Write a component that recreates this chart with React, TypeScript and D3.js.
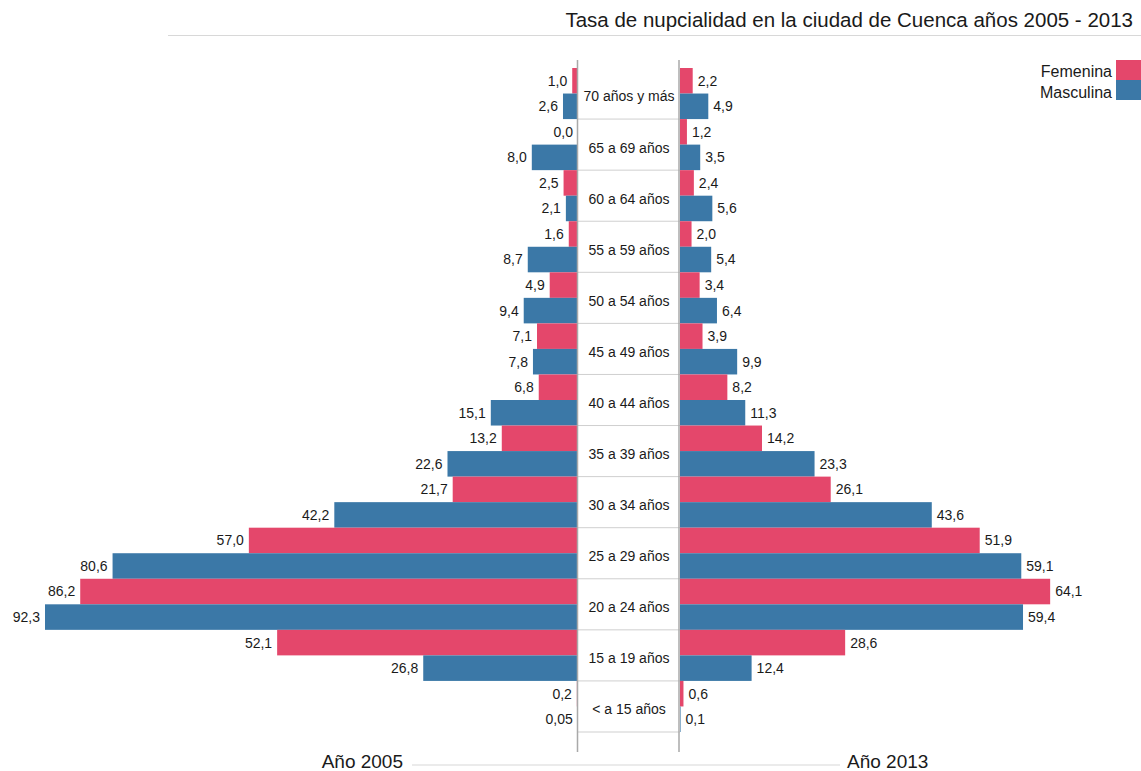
import React from "react";
import * as d3 from "d3";

// Age groups, from oldest (top) to youngest (bottom)
const categories = [
  "70 años y más",
  "65 a 69 años",
  "60 a 64 años",
  "55 a 59 años",
  "50 a 54 años",
  "45 a 49 años",
  "40 a 44 años",
  "35 a 39 años",
  "30 a 34 años",
  "25 a 29 años",
  "20 a 24 años",
  "15 a 19 años",
  "< a 15 años",
];

const femenina2005 = [1.0, 0.0, 2.5, 1.6, 4.9, 7.1, 6.8, 13.2, 21.7, 57.0, 86.2, 52.1, 0.2];
const masculina2005 = [2.6, 8.0, 2.1, 8.7, 9.4, 7.8, 15.1, 22.6, 42.2, 80.6, 92.3, 26.8, 0.05];
const femenina2013 = [2.2, 1.2, 2.4, 2.0, 3.4, 3.9, 8.2, 14.2, 26.1, 51.9, 64.1, 28.6, 0.6];
const masculina2013 = [4.9, 3.5, 5.6, 5.4, 6.4, 9.9, 11.3, 23.3, 43.6, 59.1, 59.4, 12.4, 0.1];

const seriesNames = ["Femenina", "Masculina"];
const yearLabels = ["Año 2005", "Año 2013"];
const title = "Tasa de nupcialidad en la ciudad de Cuenca años 2005 - 2013";

const W = 1141;
const H = 771;
const PINK = "#e4476b";
const BLUE = "#3b78a7";
const FONT = "'Liberation Sans', Arial, sans-serif";
const TEXT = "#1a1a1a";

const leftAxisX = 578;
const rightAxisX = 680;
const plotTop = 68;
const plotBottom = 732;

const fmt = (v: number) => {
  const s = Math.round(v * 100) % 10 !== 0 ? v.toFixed(2) : v.toFixed(1);
  return s.replace(".", ",");
};

export default function App() {
  const band = d3
    .scaleBand<string>()
    .domain(categories)
    .range([plotTop, plotBottom])
    .padding(0);
  const sub = d3
    .scaleBand<string>()
    .domain(seriesNames)
    .range([0, band.bandwidth()])
    .padding(0);

  const len = d3.scaleLinear().domain([0, 92.3]).range([0, leftAxisX - 45]);

  const left = [femenina2005, masculina2005];
  const right = [femenina2013, masculina2013];
  const colors = [PINK, BLUE];

  return (
    <svg
      width={W}
      height={H}
      style={{ position: "absolute", left: 0, top: 0, background: "#fff" }}
      fontFamily={FONT}
    >
      {/* title and rule */}
      <text x={1133} y={27} textAnchor="end" fontSize={20.5} fill={TEXT}>
        {title}
      </text>
      <line x1={168} x2={W} y1={35.5} y2={35.5} stroke="#d8d8d8" strokeWidth={1.2} />

      {/* legend */}
      {seriesNames.map((name, i) => (
        <g key={name}>
          <rect x={1116} y={60 + i * 20} width={25} height={20} fill={colors[i]} />
          <text
            x={1112}
            y={71 + i * 21}
            dy="0.35em"
            textAnchor="end"
            fontSize={16}
            fill={TEXT}
          >
            {name}
          </text>
        </g>
      ))}

      {/* category dividers in the centre column */}
      {[...categories.map((c) => band(c)!), plotBottom].slice(1).map((y, i) => (
        <line
          key={i}
          x1={leftAxisX}
          x2={rightAxisX}
          y1={y}
          y2={y}
          stroke="#cfcfcf"
          strokeWidth={1}
        />
      ))}

      {categories.map((c, ci) => {
        const y0 = band(c)!;
        return (
          <g key={c}>
            {seriesNames.map((s, si) => {
              const y = y0 + sub(s)!;
              const h = sub.bandwidth();
              const lv = left[si][ci];
              const rv = right[si][ci];
              const lw = len(lv);
              const rw = len(rv);
              return (
                <g key={s}>
                  <rect x={leftAxisX - lw} y={y} width={lw} height={h} fill={colors[si]} />
                  <rect x={rightAxisX} y={y} width={rw} height={h} fill={colors[si]} />
                  <text
                    x={leftAxisX - lw - 5}
                    y={y + h / 2}
                    dy="0.35em"
                    textAnchor="end"
                    fontSize={14}
                    fill={TEXT}
                  >
                    {fmt(lv)}
                  </text>
                  <text
                    x={rightAxisX + rw + 5}
                    y={y + h / 2}
                    dy="0.35em"
                    textAnchor="start"
                    fontSize={14}
                    fill={TEXT}
                  >
                    {fmt(rv)}
                  </text>
                </g>
              );
            })}
            <text
              x={(leftAxisX + rightAxisX) / 2}
              y={y0 + band.bandwidth() / 2 + 3}
              dy="0.35em"
              textAnchor="middle"
              fontSize={14}
              fill={TEXT}
            >
              {c}
            </text>
          </g>
        );
      })}

      {/* centre column borders */}
      <line x1={leftAxisX - 0.5} x2={leftAxisX - 0.5} y1={60} y2={752} stroke="#a9a9a9" strokeWidth={1.5} />
      <line x1={rightAxisX - 1} x2={rightAxisX - 1} y1={60} y2={752} stroke="#a9a9a9" strokeWidth={1.5} />

      {/* year labels */}
      <line x1={412} x2={840} y1={765} y2={765} stroke="#d8d8d8" strokeWidth={1.2} />
      <text x={403} y={768} textAnchor="end" fontSize={19} fill={TEXT}>
        {yearLabels[0]}
      </text>
      <text x={847} y={768} textAnchor="start" fontSize={19} fill={TEXT}>
        {yearLabels[1]}
      </text>
    </svg>
  );
}
